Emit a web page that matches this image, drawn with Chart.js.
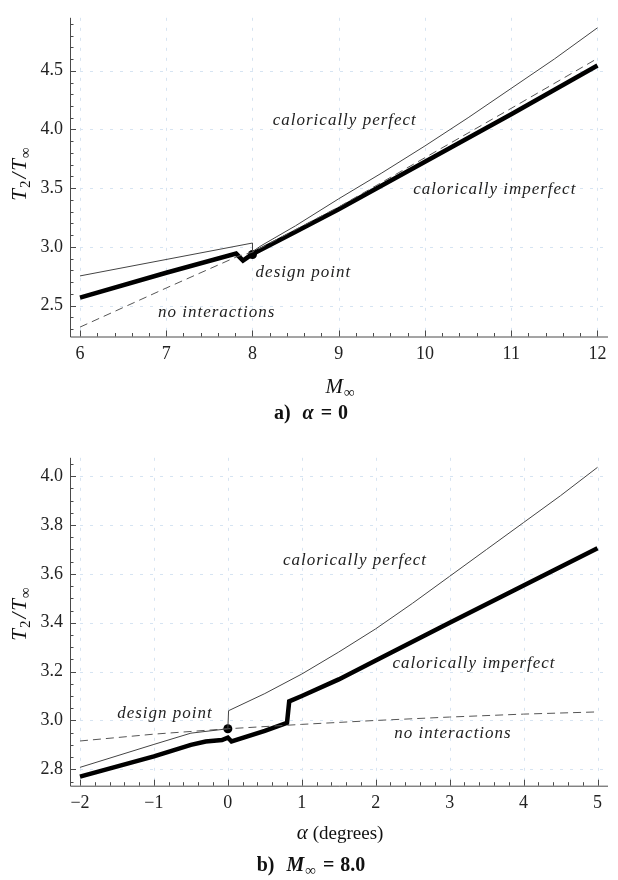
<!DOCTYPE html>
<html>
<head>
<meta charset="utf-8">
<script src="https://cdn.jsdelivr.net/npm/chart.js@4.4.1/dist/chart.umd.min.js"></script>
<style>
  body { margin: 0; background: #fff; }
  .panel { position: absolute; left: 0; width: 618px; height: 440px; }
</style>
</head>
<body>
<div class="panel" style="top:0"><canvas id="chartA" width="618" height="440"></canvas></div>
<div class="panel" style="top:440px"><canvas id="chartB" width="618" height="440"></canvas></div>
<script>
// a) alpha = 0, T2/Tinf against free-stream Mach number
const machTicks = [6, 7, 8, 9, 10, 11, 12];
const tempTicksA = [2.5, 3.0, 3.5, 4.0, 4.5];
const machPerfect = [6, 8, 8, 8.1, 8.5, 9, 9.5, 10, 10.5, 11, 11.5, 12];
const tempPerfectA = [2.753, 3.033, 2.96, 3.01, 3.18, 3.41, 3.63, 3.86, 4.10, 4.35, 4.60, 4.866];
const machImperfect = [6, 7, 7.81, 7.89, 7.99, 8.5, 9, 10, 11, 12];
const tempImperfectA = [2.568, 2.78, 2.943, 2.884, 2.935, 3.13, 3.32, 3.725, 4.13, 4.545];
const machNoInt = [6, 7, 7.83, 8, 9, 10, 11, 12];
const tempNoIntA = [2.317, 2.65, 2.92, 2.955, 3.34, 3.76, 4.18, 4.605];
const designA = [8.0, 2.935];

// b) M = 8.0, T2/Tinf against angle of attack
const alphaTicks = [-2, -1, 0, 1, 2, 3, 4, 5];
const tempTicksB = [2.8, 3.0, 3.2, 3.4, 3.6, 3.8, 4.0];
const alphaPerfect = [-2, -1, -0.5, 0, 0.01, 0.5, 1, 1.5, 2, 2.5, 3, 3.5, 4, 4.5, 5];
const tempPerfectB = [2.808, 2.902, 2.948, 2.966, 3.04, 3.11, 3.19, 3.28, 3.375, 3.48, 3.59, 3.70, 3.81, 3.92, 4.036];
const alphaImperfect = [-2, -1, -0.5, -0.3, -0.08, 0, 0.05, 0.5, 0.8, 0.83, 1, 1.5, 2, 3, 4, 5];
const tempImperfectB = [2.77, 2.853, 2.9, 2.914, 2.92, 2.93, 2.914, 2.957, 2.99, 3.078, 3.10, 3.168, 3.245, 3.40, 3.552, 3.705];
const alphaNoInt = [-2, -1, 0, 1, 2, 3, 4, 5];
const tempNoIntB = [2.916, 2.944, 2.966, 2.984, 3.0, 3.014, 3.026, 3.035];
const designB = [0, 2.966];

const SERIF = '"Liberation Serif", "Times New Roman", serif';

const pts = (xs, ys) => xs.map((x, i) => ({ x: x, y: ys[i] }));
const fmtNum = v => (v < 0 ? '\u2212' + Math.abs(v) : String(v));

// draw a run of text pieces (italic / subscript) as one label
function drawRich(ctx, segs, x, y, rotate) {
  ctx.save();
  ctx.translate(x, y);
  if (rotate) ctx.rotate(-Math.PI / 2);
  ctx.textBaseline = 'alphabetic';
  ctx.textAlign = 'left';
  let total = 0;
  segs.forEach(s => { ctx.font = s.font; total += ctx.measureText(s.t).width + (s.gap || 0); });
  let cx = -total / 2;
  segs.forEach(s => {
    ctx.font = s.font;
    ctx.fillStyle = '#111';
    ctx.fillText(s.t, cx, 6 + (s.dy || 0));
    cx += ctx.measureText(s.t).width + (s.gap || 0);
  });
  ctx.restore();
}

const framePlugin = {
  id: 'frame',
  beforeDatasetsDraw(chart, args, opts) {
    const { ctx, chartArea: a, scales: { x, y } } = chart;
    ctx.save();
    ctx.strokeStyle = '#d6e4f2';
    ctx.lineWidth = 1;
    ctx.setLineDash([3, 7]);
    opts.xTicks.forEach(v => {
      const px = Math.round(x.getPixelForValue(v)) + 0.5;
      ctx.beginPath(); ctx.moveTo(px, a.top); ctx.lineTo(px, a.bottom); ctx.stroke();
    });
    opts.yTicks.forEach(v => {
      const py = Math.round(y.getPixelForValue(v)) + 0.5;
      ctx.beginPath(); ctx.moveTo(a.left, py); ctx.lineTo(a.right, py); ctx.stroke();
    });
    ctx.setLineDash([]);
    ctx.strokeStyle = '#4a4a4a';
    // axis lines
    ctx.beginPath();
    ctx.moveTo(a.left + 0.5, a.top); ctx.lineTo(a.left + 0.5, a.bottom + 0.5);
    ctx.lineTo(a.right, a.bottom + 0.5);
    ctx.stroke();
    // inward ticks, major and minor
    const n = Math.ceil((x.max - x.min) / opts.xMinor) + 2;
    for (let i = -1; i < n; i++) {
      const v = Math.ceil(x.min / opts.xMinor) * opts.xMinor + i * opts.xMinor;
      if (v < x.min || v > x.max) continue;
      const major = opts.xTicks.some(t => Math.abs(t - v) < 1e-6);
      const px = Math.round(x.getPixelForValue(v)) + 0.5;
      ctx.beginPath(); ctx.moveTo(px, a.bottom); ctx.lineTo(px, a.bottom - (major ? 6 : 3.5)); ctx.stroke();
    }
    const m = Math.ceil((y.max - y.min) / opts.yMinor) + 2;
    for (let i = -1; i < m; i++) {
      const v = Math.ceil(y.min / opts.yMinor) * opts.yMinor + i * opts.yMinor;
      if (v < y.min || v > y.max) continue;
      const major = opts.yTicks.some(t => Math.abs(t - v) < 1e-6);
      const py = Math.round(y.getPixelForValue(v)) + 0.5;
      ctx.beginPath(); ctx.moveTo(a.left, py); ctx.lineTo(a.left + (major ? 6 : 3.5), py); ctx.stroke();
    }
    ctx.restore();
  },
  afterDraw(chart, args, opts) {
    const { ctx, scales: { x, y } } = chart;
    ctx.save();
    ctx.font = 'italic 17px ' + SERIF;
    if ('letterSpacing' in ctx) ctx.letterSpacing = '1px';
    ctx.fillStyle = '#222';
    ctx.textAlign = 'center';
    ctx.textBaseline = 'middle';
    opts.notes.forEach(nt => ctx.fillText(nt.text, x.getPixelForValue(nt.x), y.getPixelForValue(nt.y)));
    ctx.restore();
    drawRich(ctx, opts.yTitle, 20, 174, true);
    drawRich(ctx, opts.xTitle, 340, opts.xTitleY, false);
    drawRich(ctx, opts.caption, 311, opts.captionY, false);
  }
};

function makePanel(id, p) {
  return new Chart(document.getElementById(id), {
    type: 'scatter',
    data: {
      datasets: [
        { data: p.perfect, showLine: true, borderColor: '#444', borderWidth: 1, pointRadius: 0 },
        { data: p.noInt, showLine: true, borderColor: '#555', borderWidth: 1, borderDash: [8, 5], pointRadius: 0 },
        { data: p.imperfect, showLine: true, borderColor: '#000', borderWidth: 4.5, pointRadius: 0, borderJoinStyle: 'miter' },
        { data: p.design, showLine: false, pointRadius: 4.5, pointBackgroundColor: '#000', pointBorderColor: '#000', pointBorderWidth: 0 }
      ]
    },
    options: {
      responsive: false,
      devicePixelRatio: 1,
      animation: false,
      layout: { padding: { left: 0, right: 10, top: p.padTop, bottom: p.padBottom } },
      plugins: {
        legend: { display: false },
        tooltip: { enabled: false },
        frame: p.frame
      },
      scales: {
        x: {
          type: 'linear', min: p.xMin, max: p.xMax,
          afterBuildTicks: s => { s.ticks = p.xTicks.map(v => ({ value: v })); },
          afterFit: s => { s.height = 60; },
          grid: { display: false, drawTicks: false },
          border: { display: false },
          ticks: { font: { family: SERIF, size: 18 }, color: '#222', padding: 7, maxRotation: 0, autoSkip: false, callback: fmtNum }
        },
        y: {
          type: 'linear', min: p.yMin, max: p.yMax,
          afterBuildTicks: s => { s.ticks = p.yTicks.map(v => ({ value: v })); },
          afterFit: s => { s.width = 70; },
          grid: { display: false, drawTicks: false },
          border: { display: false },
          ticks: { font: { family: SERIF, size: 18 }, color: '#222', padding: 7, autoSkip: false, callback: v => v.toFixed(1) }
        }
      }
    },
    plugins: [framePlugin]
  });
}

const it21 = 'italic 21px ' + SERIF, sub15 = '15px ' + SERIF;
const bold20 = 'bold 20px ' + SERIF, boldIt20 = 'bold italic 20px ' + SERIF;
const yTitle = [
  { t: 'T', font: it21, gap: 1 }, { t: '2', font: sub15, dy: 4, gap: 2 }, { t: '/', font: it21, gap: 2 },
  { t: 'T', font: it21, gap: 1 }, { t: '\u221E', font: sub15, dy: 4 }
];

makePanel('chartA', {
  perfect: pts(machPerfect, tempPerfectA),
  imperfect: pts(machImperfect, tempImperfectA),
  noInt: pts(machNoInt, tempNoIntA),
  design: [{ x: designA[0], y: designA[1] }],
  xTicks: machTicks, yTicks: tempTicksA,
  xMin: 5.884, xMax: 12.122, yMin: 2.237, yMax: 4.951,
  padTop: 4, padBottom: 43.5,
  frame: {
    xTicks: machTicks, yTicks: tempTicksA, xMinor: 0.2, yMinor: 0.1,
    notes: [
      { text: 'calorically perfect', x: 9.07, y: 4.08 },
      { text: 'calorically imperfect', x: 10.81, y: 3.488 },
      { text: 'design point', x: 8.59, y: 2.786 },
      { text: 'no interactions', x: 7.585, y: 2.445 }
    ],
    yTitle: yTitle,
    xTitle: [{ t: 'M', font: it21, gap: 1 }, { t: '\u221E', font: sub15, dy: 4 }],
    xTitleY: 386.7,
    caption: [
      { t: 'a)', font: bold20, gap: 12 }, { t: '\u03B1', font: boldIt20, gap: 7 },
      { t: '=', font: bold20, gap: 6 }, { t: '0', font: bold20 }
    ],
    captionY: 413.3
  }
});

makePanel('chartB', {
  perfect: pts(alphaPerfect, tempPerfectB),
  imperfect: pts(alphaImperfect, tempImperfectB),
  noInt: pts(alphaNoInt, tempNoIntB),
  design: [{ x: designB[0], y: designB[1] }],
  xTicks: alphaTicks, yTicks: tempTicksB,
  xMin: -2.135, xMax: 5.142, yMin: 2.733, yMax: 4.075,
  padTop: 13.3, padBottom: 34.3,
  frame: {
    xTicks: alphaTicks, yTicks: tempTicksB, xMinor: 0.2, yMinor: 0.05,
    notes: [
      { text: 'calorically perfect', x: 1.72, y: 3.654 },
      { text: 'calorically imperfect', x: 3.33, y: 3.232 },
      { text: 'design point', x: -0.85, y: 3.027 },
      { text: 'no interactions', x: 3.045, y: 2.946 }
    ],
    yTitle: yTitle,
    xTitle: [{ t: '\u03B1', font: it21, gap: 5 }, { t: '(degrees)', font: '19px ' + SERIF }],
    xTitleY: 393.3,
    caption: [
      { t: 'b)', font: bold20, gap: 12 }, { t: 'M', font: boldIt20, gap: 1 },
      { t: '\u221E', font: 'bold 15px ' + SERIF, dy: 4, gap: 7 }, { t: '=', font: bold20, gap: 6 },
      { t: '8.0', font: bold20 }
    ],
    captionY: 425
  }
});
</script>
</body>
</html>
